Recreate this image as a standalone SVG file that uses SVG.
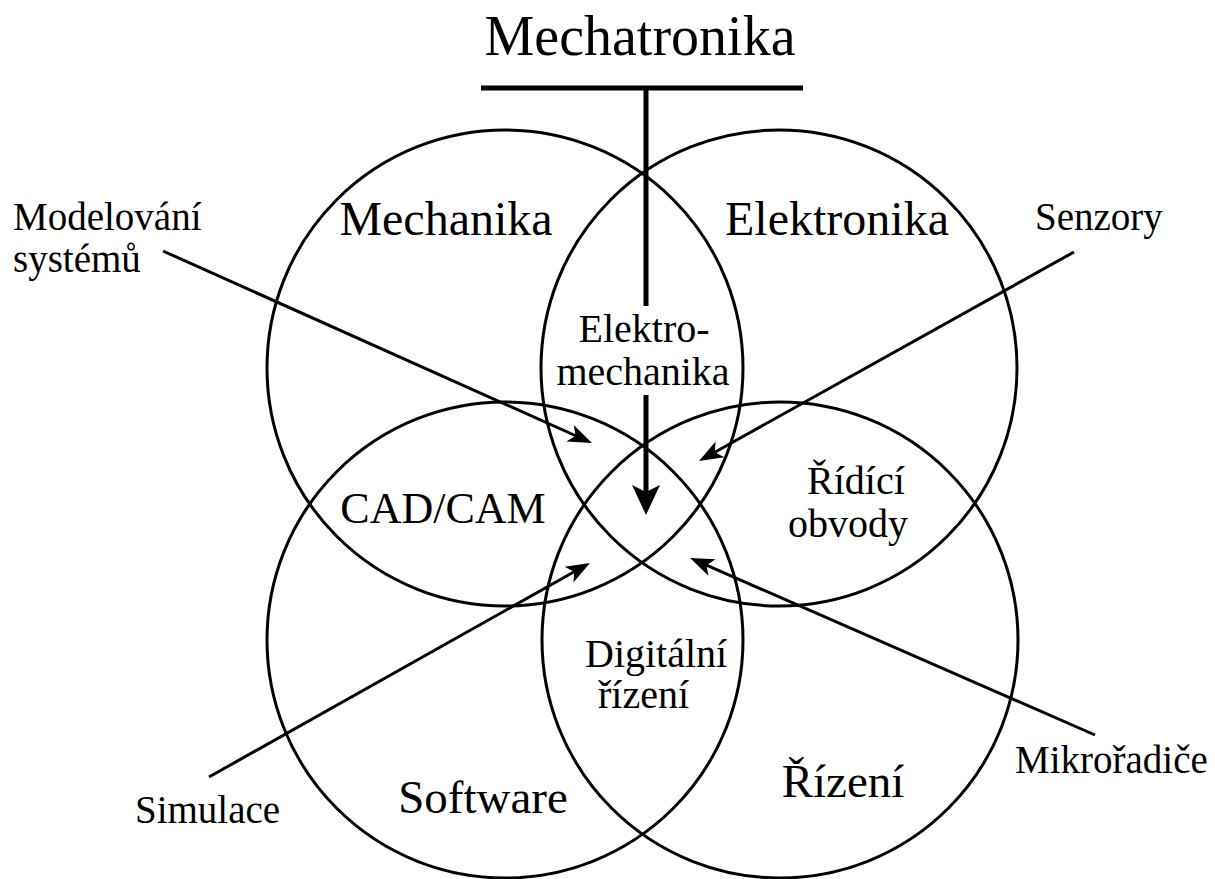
<svg xmlns="http://www.w3.org/2000/svg" width="1215" height="879" viewBox="0 0 1215 879">
  <style>
    .ring { fill: none; stroke: #000; stroke-width: 3; }
    .lbl { font-family: "Liberation Serif", "Times New Roman", serif; fill: #000; }
    .big { font-size: 48px; text-anchor: middle; }
    .mid { font-size: 40px; }
    .side { font-size: 39px; }
    .thin { fill: none; stroke: #000; stroke-width: 3; }
    .thick { fill: none; stroke: #000; stroke-width: 5; }
  </style>
  <defs>
    <marker id="headThin" markerUnits="userSpaceOnUse" orient="auto" refX="0" refY="0" markerWidth="60" markerHeight="60" viewBox="-30 -30 60 60" overflow="visible">
      <path d="M16,0 L-8,-9 L-2,0 L-8,9 Z" fill="#000"/>
    </marker>
    <marker id="headThick" markerUnits="userSpaceOnUse" orient="auto" refX="0" refY="0" markerWidth="80" markerHeight="80" viewBox="-40 -40 80 80" overflow="visible">
      <path d="M20,0 L-10,-14 L-3,0 L-10,14 Z" fill="#000"/>
    </marker>
  </defs>
  <rect width="1215" height="879" fill="#fff"/>

  <!-- title -->
  <g id="title">
    <text class="lbl" x="640" y="55" font-size="56" text-anchor="middle">Mechatronika</text>
    <line x1="481" y1="88" x2="803" y2="88" stroke="#000" stroke-width="5"/>
  </g>

  <!-- four overlapping discipline circles -->
  <g id="mechanika">
    <circle class="ring" cx="505" cy="368" r="238"/>
    <text class="lbl big" x="446" y="235">Mechanika</text>
  </g>
  <g id="elektronika">
    <circle class="ring" cx="779" cy="368" r="238"/>
    <text class="lbl big" x="837" y="235">Elektronika</text>
  </g>
  <g id="software">
    <circle class="ring" cx="505" cy="640" r="238"/>
    <text class="lbl" x="483" y="813" font-size="47" text-anchor="middle">Software</text>
  </g>
  <g id="rizeni">
    <circle class="ring" cx="780" cy="640" r="238"/>
    <text class="lbl" x="843" y="797" font-size="47" text-anchor="middle">Řízení</text>
  </g>

  <!-- overlap labels -->
  <g id="elektromechanika">
    <text class="lbl mid" x="644" y="342" text-anchor="middle">Elektro-</text>
    <text class="lbl mid" x="643" y="385" text-anchor="middle">mechanika</text>
  </g>
  <g id="cadcam">
    <text class="lbl" x="443" y="523" font-size="44" text-anchor="middle">CAD/CAM</text>
  </g>
  <g id="ridici-obvody">
    <text class="lbl mid" x="807" y="494">Řídící</text>
    <text class="lbl mid" x="788" y="537">obvody</text>
  </g>
  <g id="digitalni-rizeni">
    <text class="lbl mid" x="585" y="667">Digitální</text>
    <text class="lbl mid" x="598" y="708">řízení</text>
  </g>

  <!-- outer labels -->
  <g id="modelovani">
    <text class="lbl side" x="13" y="230">Modelování</text>
    <text class="lbl side" x="13" y="272">systémů</text>
  </g>
  <g id="senzory">
    <text class="lbl side" x="1035" y="230">Senzory</text>
  </g>
  <g id="simulace">
    <text class="lbl side" x="135" y="823">Simulace</text>
  </g>
  <g id="mikroradice">
    <text class="lbl side" x="1015" y="773">Mikrořadiče</text>
  </g>

  <!-- connectors -->
  <g id="connectors">
    <line class="thick" x1="646" y1="88" x2="646" y2="306"/>
    <line class="thick" x1="646" y1="395" x2="646" y2="495" marker-end="url(#headThick)"/>
    <line class="thin" x1="163" y1="251" x2="577.4" y2="436.5" marker-end="url(#headThin)"/>
    <line class="thin" x1="1074" y1="252" x2="713" y2="453.2" marker-end="url(#headThin)"/>
    <line class="thin" x1="209" y1="777" x2="576" y2="570.8" marker-end="url(#headThin)"/>
    <line class="thin" x1="1095" y1="735" x2="704.7" y2="564.4" marker-end="url(#headThin)"/>
  </g>
</svg>
